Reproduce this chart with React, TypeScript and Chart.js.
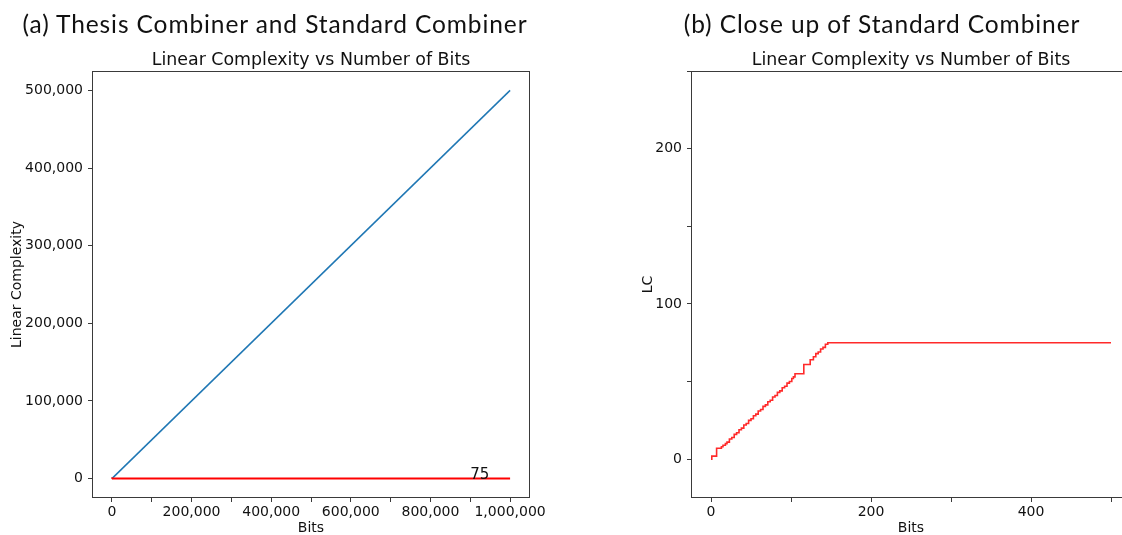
import React, { useEffect, useRef } from 'react';
import { Chart, registerables } from 'chart.js';

Chart.register(...registerables);

// ---------- Data: panel (a) ----------
const thesisBits = [0, 1000000];
const thesisLC = [0, 500000];
const standardBits = [0, 150, 1000000];
const standardLC = [0, 75, 75];
const annotationX = [900000];
const annotationY = [75];
const annotationText = ['75'];

const leftXTicks = [0, 100000, 200000, 300000, 400000, 500000, 600000, 700000, 800000, 900000, 1000000];
const leftXLabelled = [0, 200000, 400000, 600000, 800000, 1000000];
const leftYTicks = [0, 100000, 200000, 300000, 400000, 500000];

// ---------- Data: panel (b) ----------
const closeBits = [0, 1, 7, 13, 15, 18, 20, 23, 26, 29, 32, 35, 38, 41, 44, 47, 50, 53, 56, 59, 62, 65, 68, 71, 74, 77, 80, 83, 86, 89, 92, 95, 98, 101, 103, 105, 116, 124, 128, 131, 134, 137, 140, 143, 146, 500];
const closeLC = [0, 2, 7, 8, 9, 10, 11, 13, 14, 16, 17, 19, 20, 22, 23, 25, 26, 28, 29, 31, 32, 34, 35, 37, 38, 40, 41, 43, 44, 46, 47, 49, 50, 52, 53, 55, 61, 64, 66, 68, 69, 71, 72, 74, 75, 75];

const rightXTicks = [0, 100, 200, 300, 400, 500];
const rightXLabelled = [0, 200, 400];
const rightYTicks = [0, 50, 100, 150, 200, 250];
const rightYLabelled = [0, 100, 200];

const FONT = 'DejaVu Sans';
const TEXT = '#111';
const SPINE = '#3a3a3a';

const boxPlugin = {
  id: 'boxSpines',
  afterDatasetsDraw(chart: any) {
    const { ctx, chartArea } = chart;
    const l = Math.round(chartArea.left) + 0.5;
    const t = Math.round(chartArea.top) + 0.5;
    const r = Math.round(chartArea.right) - 0.5;
    const b = Math.round(chartArea.bottom) - 0.5;
    ctx.save();
    ctx.strokeStyle = SPINE;
    ctx.lineWidth = 1;
    ctx.strokeRect(l, t, r - l, b - t);
    ctx.restore();
  },
};

const annotationPlugin = {
  id: 'valueAnnotation',
  afterDatasetsDraw(chart: any, _args: any, opts: any) {
    if (!opts || !opts.enabled) return;
    const { ctx, scales } = chart;
    ctx.save();
    ctx.font = `15px "${FONT}"`;
    ctx.fillStyle = TEXT;
    ctx.textAlign = 'left';
    ctx.textBaseline = 'alphabetic';
    annotationText.forEach((txt, i) => {
      ctx.fillText(txt, scales.x.getPixelForValue(annotationX[i]), scales.y.getPixelForValue(annotationY[i]));
    });
    ctx.restore();
  },
};

function axisCommon(title: string, titlePad: any, tickPadding: number) {
  return {
    type: 'linear' as const,
    grid: {
      display: true,
      drawOnChartArea: false,
      drawTicks: true,
      tickLength: 4,
      tickColor: SPINE,
      lineWidth: 1,
    },
    border: { display: false },
    title: {
      display: true,
      text: title,
      color: TEXT,
      font: { family: FONT, size: 14 },
      padding: titlePad,
    },
    ticks: {
      color: TEXT,
      font: { family: FONT, size: 14 },
      padding: tickPadding,
      maxRotation: 0,
      autoSkip: false,
    },
  };
}

function makeLeft(canvas: HTMLCanvasElement) {
  const xAxis: any = axisCommon('Bits', { top: 0, bottom: -2 }, 2);
  xAxis.min = -50000;
  xAxis.max = 1050000;
  xAxis.afterBuildTicks = (s: any) => { s.ticks = leftXTicks.map((v) => ({ value: v })); };
  xAxis.afterFit = (s: any) => { s.height = 37; };
  xAxis.ticks.callback = (v: number) => (leftXLabelled.includes(v) ? v.toLocaleString('en-US') : '');

  const yAxis: any = axisCommon('Linear Complexity', { top: 9, bottom: 0 }, 5);
  yAxis.min = -25000;
  yAxis.max = 525000;
  yAxis.afterBuildTicks = (s: any) => { s.ticks = leftYTicks.map((v) => ({ value: v })); };
  yAxis.afterFit = (s: any) => { s.width = 92; };
  yAxis.ticks.callback = (v: number) => v.toLocaleString('en-US');

  return new Chart(canvas, {
    type: 'line',
    data: {
      datasets: [
        {
          label: 'Standard Combiner',
          data: standardBits.map((b, i) => ({ x: b, y: standardLC[i] })),
          borderColor: '#ff0000',
          borderWidth: 2,
          pointRadius: 0,
          order: 0,
        },
        {
          label: 'Thesis Combiner',
          data: thesisBits.map((b, i) => ({ x: b, y: thesisLC[i] })),
          borderColor: '#1f77b4',
          borderWidth: 1.5,
          pointRadius: 0,
          order: 1,
        },
      ],
    },
    options: {
      responsive: false,
      animation: false,
      layout: { padding: { left: 0, top: 71, right: 30, bottom: 0 } },
      plugins: {
        legend: { display: false },
        tooltip: { enabled: false },
        title: { display: false },
        valueAnnotation: { enabled: true },
      } as any,
      scales: { x: xAxis, y: yAxis },
    },
    plugins: [boxPlugin, annotationPlugin],
  });
}

function makeRight(canvas: HTMLCanvasElement) {
  const xAxis: any = axisCommon('Bits', { top: 0, bottom: -2 }, 2);
  xAxis.min = -25;
  xAxis.max = 525;
  xAxis.afterBuildTicks = (s: any) => { s.ticks = rightXTicks.map((v) => ({ value: v })); };
  xAxis.afterFit = (s: any) => { s.height = 37; };
  xAxis.ticks.callback = (v: number) => (rightXLabelled.includes(v) ? String(v) : '');

  const yAxis: any = axisCommon('LC', { top: 80, bottom: 0 }, 5);
  yAxis.min = -25;
  yAxis.max = 250;
  yAxis.afterBuildTicks = (s: any) => { s.ticks = rightYTicks.map((v) => ({ value: v })); };
  yAxis.afterFit = (s: any) => { s.width = 131; };
  yAxis.ticks.callback = (v: number) => (rightYLabelled.includes(v) ? String(v) : '');

  return new Chart(canvas, {
    type: 'line',
    data: {
      datasets: [
        {
          label: 'Standard Combiner',
          data: closeBits.map((b, i) => ({ x: b, y: closeLC[i] })),
          borderColor: '#ff2a2a',
          borderWidth: 1.6,
          pointRadius: 0,
          stepped: true,
        },
      ],
    },
    options: {
      responsive: false,
      animation: false,
      layout: { padding: { left: 0, top: 71, right: 4, bottom: 0 } },
      plugins: {
        legend: { display: false },
        tooltip: { enabled: false },
        title: { display: false },
        valueAnnotation: { enabled: false },
      } as any,
      scales: { x: xAxis, y: yAxis },
    },
    plugins: [boxPlugin, annotationPlugin],
  });
}

const headStyle = (center: number): React.CSSProperties => ({
  position: 'absolute',
  left: center,
  top: 12,
  transform: 'translateX(-50%)',
  whiteSpace: 'nowrap',
  fontFamily: 'Lato, sans-serif',
  fontSize: 24.5,
  letterSpacing: '0.9px',
  lineHeight: '24px',
  color: '#111',
});

const subStyle = (center: number): React.CSSProperties => ({
  position: 'absolute',
  left: center,
  top: 50.5,
  transform: 'translateX(-50%)',
  whiteSpace: 'nowrap',
  fontFamily: `"${FONT}", sans-serif`,
  fontSize: 17.4,
  lineHeight: '17.4px',
  color: TEXT,
});

export default function App() {
  const leftRef = useRef<HTMLCanvasElement>(null);
  const rightRef = useRef<HTMLCanvasElement>(null);

  useEffect(() => {
    const a = makeLeft(leftRef.current!);
    const b = makeRight(rightRef.current!);
    return () => {
      a.destroy();
      b.destroy();
    };
  }, []);

  return (
    <div
      style={{
        position: 'absolute',
        left: 0,
        top: 0,
        width: 1122,
        height: 535,
        overflow: 'hidden',
        background: '#fff',
      }}
    >
      <canvas
        ref={leftRef}
        width={560}
        height={535}
        style={{ position: 'absolute', left: 0, top: 0, width: 560, height: 535 }}
      />
      <canvas
        ref={rightRef}
        width={575}
        height={535}
        style={{ position: 'absolute', left: 560, top: 0, width: 575, height: 535 }}
      />
      <div style={headStyle(275)}>(a) Thesis Combiner and Standard Combiner</div>
      <div style={headStyle(882)}>(b) Close up of Standard Combiner</div>
      <div style={subStyle(311)}>Linear Complexity vs Number of Bits</div>
      <div style={subStyle(911)}>Linear Complexity vs Number of Bits</div>
    </div>
  );
}
